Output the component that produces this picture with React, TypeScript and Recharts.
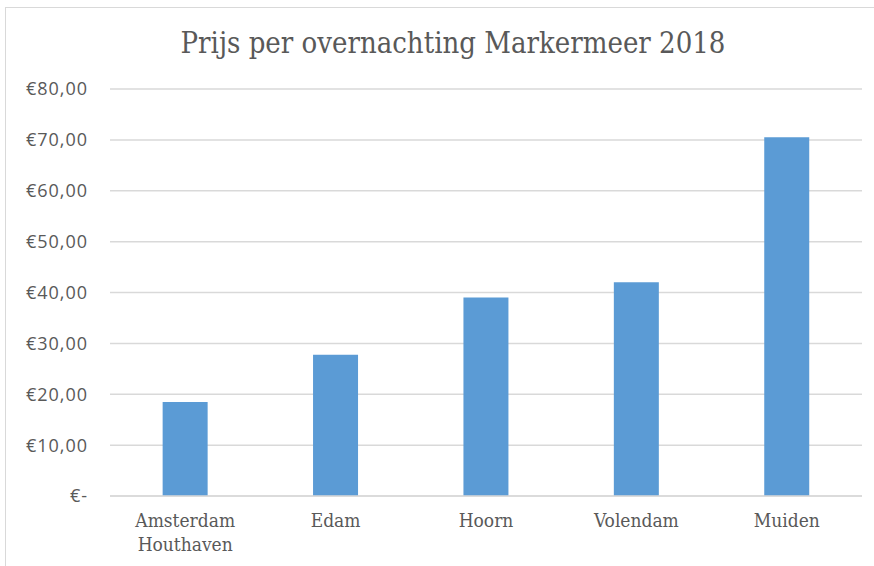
import React from 'react';
import { BarChart, Bar, XAxis, YAxis, CartesianGrid, Text } from 'recharts';

const havens = ['Amsterdam Houthaven', 'Edam', 'Hoorn', 'Volendam', 'Muiden'];
const prijzen = [18.5, 27.75, 39, 42, 70.5];
const yTicks = [0, 10, 20, 30, 40, 50, 60, 70, 80];

const data = havens.map((haven, i) => ({ haven, prijs: prijzen[i] }));

const TEXT = '#595959';
const GRID = '#d9d9d9';
const SERIF = '"DejaVu Serif Condensed", "DejaVu Serif", serif';

const euro = (v: number) =>
  v === 0 ? '€-' : '€' + v.toFixed(2).replace('.', ',');

// category labels wrap onto two lines like Excel does
const HavenTick = (props: any) => {
  const { x, y, payload } = props;
  return (
    <Text
      x={x}
      y={y}
      width={115}
      textAnchor="middle"
      verticalAnchor="start"
      lineHeight={24}
      fill={TEXT}
      style={{ fontFamily: SERIF, fontSize: 19 }}
    >
      {payload.value}
    </Text>
  );
};

export default function App() {
  return (
    <div style={{ position: 'absolute', left: 0, top: 0, width: 874, height: 566, background: '#fff', overflow: 'hidden' }}>
      <div style={{ position: 'absolute', left: 5, top: 7, width: 900, height: 600, border: '1px solid #d9d9d9' }} />
      <div
        style={{
          position: 'absolute',
          left: 16,
          top: 26,
          width: 874,
          textAlign: 'center',
          fontFamily: SERIF,
          fontSize: 29,
          color: TEXT,
        }}
      >
        Prijs per overnachting Markermeer 2018
      </div>
      <div style={{ position: 'absolute', left: 0, top: 0 }}>
        <BarChart width={874} height={566} data={data} margin={{ top: 89, right: 12, bottom: 40, left: 10 }} barCategoryGap="35%">
          <CartesianGrid vertical={false} stroke={GRID} strokeWidth={1.5} />
          <XAxis
            dataKey="haven"
            height={30}
            axisLine={{ stroke: GRID, strokeWidth: 1.5 }}
            tickLine={false}
            tickMargin={12}
            interval={0}
            tick={<HavenTick />}
          />
          <YAxis
            width={100}
            domain={[0, 80]}
            ticks={yTicks}
            axisLine={false}
            tickLine={false}
            tickMargin={16}
            tickFormatter={euro}
            tick={{ fill: TEXT, fontSize: 18, letterSpacing: 1, fontFamily: '"Open Sans", sans-serif' }}
          />
          <Bar dataKey="prijs" fill="#5b9bd5" isAnimationActive={false} />
        </BarChart>
      </div>
    </div>
  );
}
